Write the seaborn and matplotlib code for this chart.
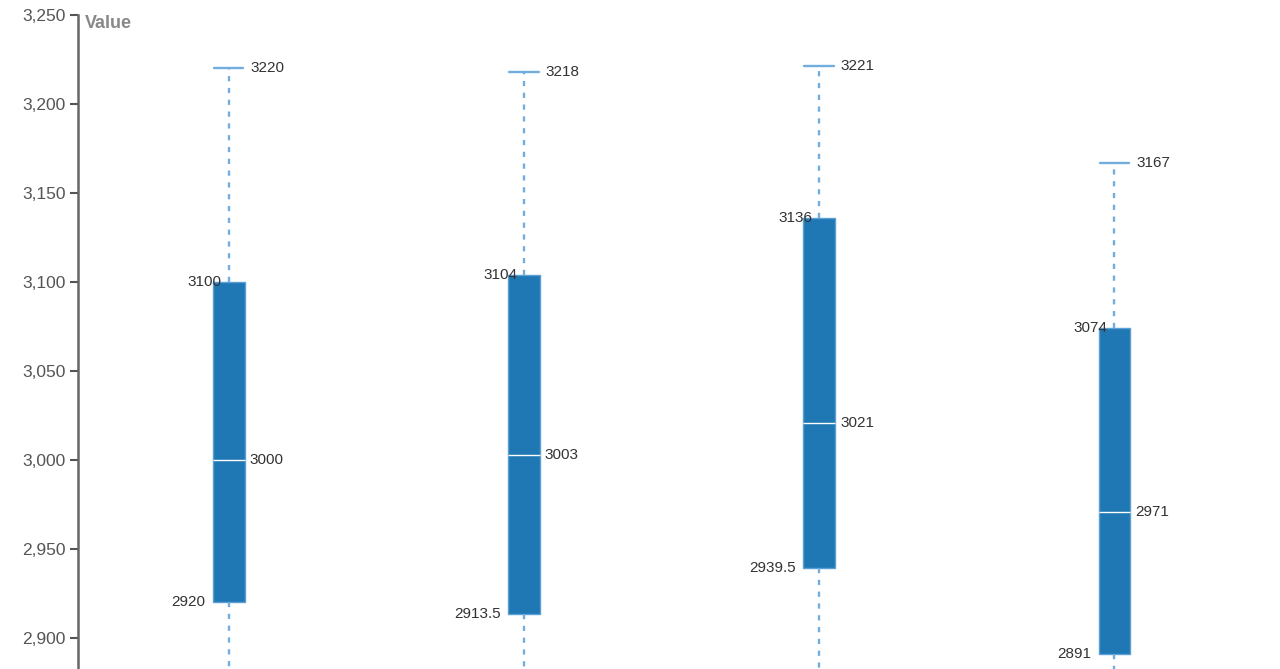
import pandas as pd
import numpy as np
import seaborn as sns
import matplotlib.pyplot as plt

# five-number summaries per group (lower whiskers fall outside the visible area, estimated)
groups = ["A", "B", "C", "D"]
mins = [2780, 2790, 2800, 2770]
q1s = [2920, 2913.5, 2939.5, 2891]
medians = [3000, 3003, 3021, 2971]
q3s = [3100, 3104, 3136, 3074]
maxs = [3220, 3218, 3221, 3167]

# with five points, linear percentiles hit q1/q3 exactly
rows = []
for g, a, b, c, d, e in zip(groups, mins, q1s, medians, q3s, maxs):
    for v in (a, b, c, d, e):
        rows.append({"group": g, "value": v})
df = pd.DataFrame(rows)

sns.set_style("white")
plt.rcParams["font.family"] = ["Liberation Sans", "DejaVu Sans"]

fig = plt.figure(figsize=(12.8, 6.69), dpi=100)
ax = fig.add_axes([0.061, 0.0, 0.925, 0.978])

box_col = "#1f77b4"
whisk_col = "#72ade0"
sns.boxplot(data=df, x="group", y="value", order=groups, whis=(0, 100),
            width=0.108, color=box_col, saturation=1, ax=ax,
            linewidth=1,
            boxprops=dict(facecolor=box_col, edgecolor="#5b9fd6"),
            medianprops=dict(color="white", linewidth=1),
            whiskerprops=dict(color=whisk_col, linestyle=(0, (2.2, 2.8)), linewidth=1.7),
            capprops=dict(color=whisk_col, linewidth=1.7),
            capwidths=0.1)

lab = dict(fontsize=11, color="#333333", textcoords="offset points", va="center")
for i in range(len(groups)):
    ax.annotate(f"{maxs[i]:g}", (i, maxs[i]), xytext=(15.5, 0), ha="left", **lab)
    ax.annotate(f"{medians[i]:g}", (i, medians[i]), xytext=(15, 0), ha="left", **lab)
    ax.annotate(f"{q3s[i]:g}", (i, q3s[i]), xytext=(-5, 0), ha="right", **lab)
    ax.annotate(f"{q1s[i]:g}", (i, q1s[i]), xytext=(-16.5, 0), ha="right", **lab)

ax.set_xlim(-0.51, 3.5)
ax.set_ylim(2882.6, 3250)
ax.set_yticks(np.arange(2900, 3251, 50))
ax.set_yticklabels([f"{t:,}" for t in range(2900, 3251, 50)])
ax.tick_params(axis="y", length=6, width=1.5, color="#555555", labelcolor="#555555",
               labelsize=12.5, pad=3, left=True)
ax.set_xlabel("")
ax.set_ylabel("")
ax.set_xticks([])
for s in ["top", "right", "bottom"]:
    ax.spines[s].set_visible(False)
ax.spines["left"].set_color("#666666")
ax.spines["left"].set_linewidth(1.8)
ax.text(0.006, 0.999, "Value", transform=ax.transAxes, fontsize=13,
        fontweight="bold", color="#888888", ha="left", va="top")

fig.savefig("out.png", dpi=100)
